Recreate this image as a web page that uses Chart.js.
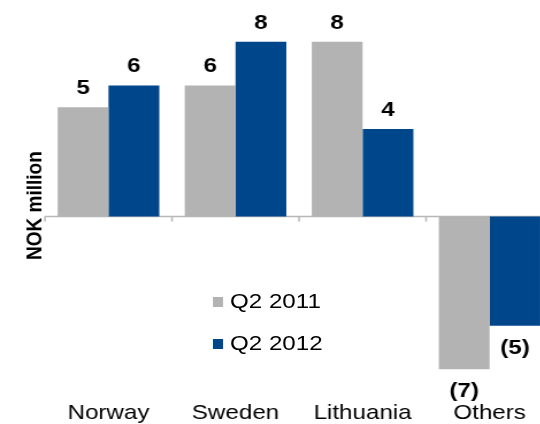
<!DOCTYPE html>
<html>
<head>
<meta charset="utf-8">
<title>NOK million by region</title>
<style>
  html, body { margin: 0; padding: 0; background: #fff; width: 540px; height: 424px; overflow: hidden; }
  /* the whole figure is drawn slightly widened */
  #wrap { position: absolute; left: 0; top: 0; width: 481px; height: 424px;
          transform: scaleX(1.15); transform-origin: 0 0; }
  #chart { position: absolute; left: 0; top: 0; }
  .item { position: absolute; left: 185.2px; height: 21px; width: 140px;
          font: 21px "Liberation Sans", Arial, sans-serif; color: #000; }
  .item .sw { position: absolute; left: 0; top: 7px; width: 8.7px; height: 10px; }
  .item .tx { position: absolute; left: 14.8px; top: 0; line-height: 21px; white-space: nowrap; }
</style>
<script src="https://cdn.jsdelivr.net/npm/chart.js@4/dist/chart.umd.min.js"></script>
</head>
<body>
<div id="wrap">
  <canvas id="chart" width="481" height="424"></canvas>
  <div id="legend"></div>
</div>
<script>
const categories = ['Norway', 'Sweden', 'Lithuania', 'Others'];
const seriesNames = ['Q2 2011', 'Q2 2012'];
const q2_2011 = [5, 6, 8, -7];
const q2_2012 = [6, 8, 4, -5];
const seriesColors = ['#b3b3b3', '#00468b'];
const axisTitle = 'NOK million';

const FONT = '"Liberation Sans", Arial, sans-serif';

// zero line with small downward ticks at the category boundaries
const zeroAxis = {
  id: 'zeroAxis',
  beforeDatasetsDraw(chart) {
    const { ctx, chartArea: a, scales: { x, y } } = chart;
    const y0 = Math.round(y.getPixelForValue(0)) + 0.5;
    const step = x.getPixelForValue(1) - x.getPixelForValue(0);
    ctx.save();
    ctx.strokeStyle = '#b8b8b8';
    ctx.lineWidth = 1.5;
    ctx.beginPath();
    ctx.moveTo(a.left, y0);
    ctx.lineTo(a.right, y0);
    for (let i = 0; i <= categories.length; i++) {
      const px = x.getPixelForValue(i) - step / 2;
      ctx.moveTo(px, y0);
      ctx.lineTo(px, y0 + 5);
    }
    ctx.stroke();
    ctx.restore();
  }
};

// value labels: above positive bars, in brackets below negative ones
const valueLabels = {
  id: 'valueLabels',
  afterDatasetsDraw(chart) {
    const { ctx } = chart;
    ctx.save();
    ctx.font = 'bold 21px ' + FONT;
    ctx.fillStyle = '#000';
    ctx.textAlign = 'center';
    ctx.textBaseline = 'alphabetic';
    chart.data.datasets.forEach((ds, di) => {
      chart.getDatasetMeta(di).data.forEach((bar, i) => {
        const v = ds.data[i];
        const txt = v < 0 ? '(' + (-v) + ')' : String(v);
        ctx.fillText(txt, bar.x, v < 0 ? bar.y + 28 : bar.y - 13);
      });
    });
    ctx.restore();
  }
};

const seriesData = [q2_2011, q2_2012];

new Chart(document.getElementById('chart'), {
  type: 'bar',
  data: {
    labels: categories,
    datasets: seriesNames.map((name, i) => ({
      label: name,
      data: seriesData[i],
      backgroundColor: seriesColors[i],
      borderWidth: 0,
      categoryPercentage: 0.8,
      barPercentage: 1.0
    }))
  },
  options: {
    responsive: false,
    animation: false,
    devicePixelRatio: 1,
    layout: { padding: { top: 9, left: 0, right: 0, bottom: 0 } },
    plugins: { legend: { display: false }, tooltip: { enabled: false } },
    scales: {
      x: {
        grid: { display: false, drawTicks: false },
        border: { display: false },
        ticks: { color: '#000', padding: 1, font: { family: FONT, size: 21, lineHeight: 1 } },
        afterFit(scale) { scale.height = 21.9; }
      },
      y: {
        min: -8.5,
        max: 9.5,
        grid: { display: false, drawTicks: false },
        border: { display: false },
        ticks: { display: false },
        title: {
          display: true,
          text: axisTitle,
          color: '#000',
          padding: { top: 19.5, bottom: 0 },
          font: { family: FONT, size: 19, weight: 'bold', lineHeight: 1.2 }
        },
        afterFit(scale) { scale.width = 39.1; }
      }
    }
  },
  plugins: [zeroAxis, valueLabels]
});

// legend placed inside the plot, below the zero line
const legend = document.getElementById('legend');
const legendTops = [290, 332];
seriesNames.forEach((name, i) => {
  const item = document.createElement('div');
  item.className = 'item';
  item.style.top = legendTops[i] + 'px';
  const sw = document.createElement('span');
  sw.className = 'sw';
  sw.style.background = seriesColors[i];
  const tx = document.createElement('span');
  tx.className = 'tx';
  tx.textContent = name;
  item.appendChild(sw);
  item.appendChild(tx);
  legend.appendChild(item);
});
</script>
</body>
</html>
